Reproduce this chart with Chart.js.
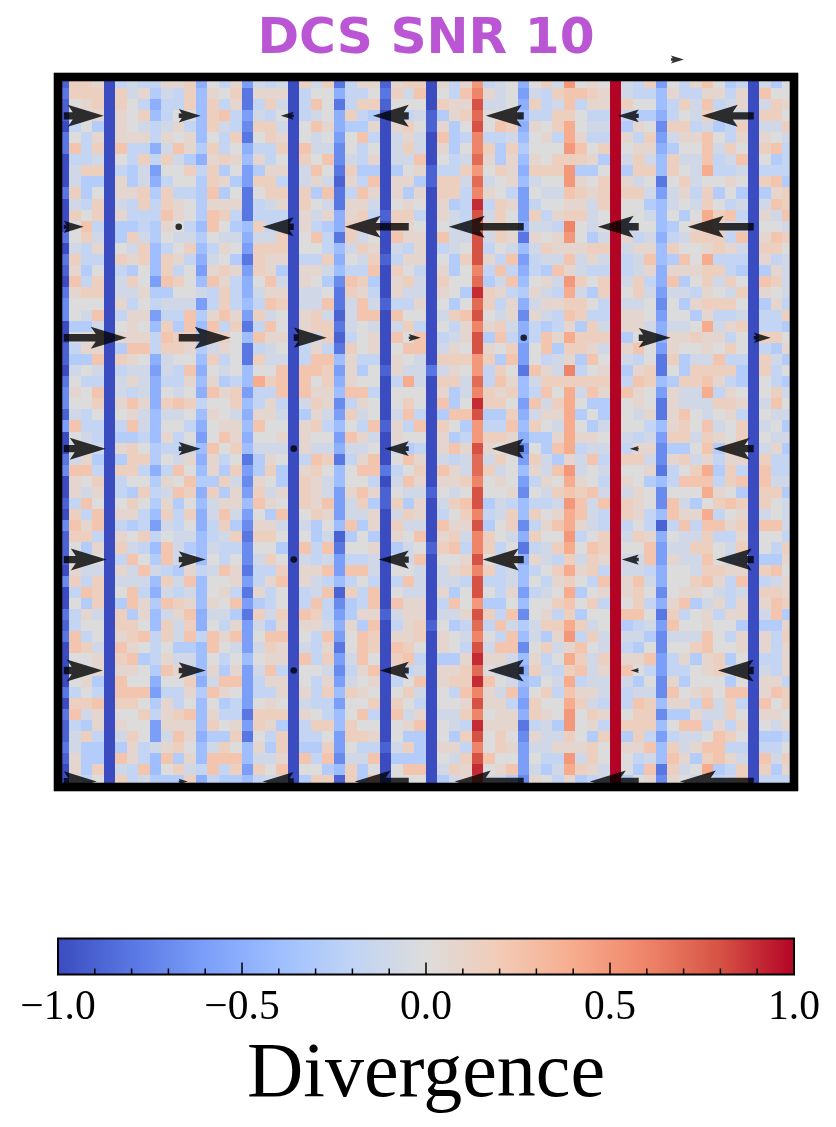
<!DOCTYPE html>
<html><head><meta charset="utf-8">
<style>html,body{margin:0;padding:0;background:#fff;width:836px;height:1127px;overflow:hidden}
canvas{position:absolute;left:0;display:block}</style>
<script src="https://cdn.jsdelivr.net/npm/chart.js@4"></script>
</head><body>
<canvas id="main" style="top:0" width="836" height="900"></canvas>
<canvas id="bar" style="top:900px" width="836" height="227"></canvas>
<script>
// Divergence cells: one letter per cell, looked up in levelValues (a..u)
const levelValues = [-1,-0.9,-0.8,-0.7,-0.6,-0.5,-0.4,-0.27,-0.18,-0.09,0,0.07,0.15,0.24,0.4,0.5,0.6,0.7,0.8,0.9,1];
const cellRows = [
"bmml aiji illm fkil ejij amjm cill blmm alil pijk fkmj pklk ujim ekil nkhi ajhk",
"cmmm amjl hjim glkm clll aikk fiik cmjn akin qljk ejim nnml ujii glii llil ankk",
"bklm amki fiim gmil cimj aink cimm bkkk amll sjjk fmij nill umkk gimj nijl ajml",
"bkkl alkm gikk gmni ejik aijk fmih akij bhlm rkkk giim mkii uihh fikj mkkj ammk",
"aikh alkj ijli gmji dmmj aknl fhhl almk blhk sknm flkm okjj uhlk dmmi jhim ajjm",
"ckil alll ilkl gkim ckml akjk ekni ajlj anhi qiij gkli olii ulim ejll nkil alkj",
"cnim anii fjnl hmik fiim anjj dkik ajmj alhk qmhm hkkk pnkm ukll fhkk njmk amni",
"aiij akim imjh flml glik amkn djil ajjn akij rlhl glkm mmlh ujmj gmjj nijn akhi",
"ajmm aihj ekkm imhk ehll ajnk cmhh ahkl biim pkml fmmm phhk uhmm gmkj oiij aiii",
"ajhh alhj fikk hmlh emmi ajlj blin allh bmmj rjkl gjkk plkm uljk ckmj kklk amnh",
"cmhk allm hmii hnhk ckmm amhn cinl alhl ammi qlki ekjj nmlm ummj ejli mhkh ahlm",
"ajim ajim imlk hlll cijl amkj cllj aklk alhi timl eikk lljm ukkh gjkj mkij ajnm",
"amkm alii inlk hnmi ciii aljl flmi bmmi alji sjmk emil mmjk ukkj gkhk omni aljn",
"akni ahhi hlki gnkh gmii alih fmll amlk akji rlmk fjji qkjk uikk ghkl nljj akkj",
"ckmj ahmj hkjj hkjj fjjm akni cmjk anll anjj sjml clkl pkhj ulij fijm mmin alnm",
"ajil akjm gikm gilk emmm akki gjml ajil aijk sikj gjml llmm ujll gmkk lmlj ammk",
"cmii amlm gmli fjkh cmll aiim fkjm bill akhm slin eijj njlj uijn ghnk oiii alij",
"blhk aihk gmik elml emlh allj giin amki alhk qini fihn ljii uijl flll mmih ahlj",
"anim ajmk enmk gnli fknj alkh dnmh almj amkk rhjn gklj pmkm ujmi fnhk mjmk anmj",
"clmm ajjl hhkk jimi fjll ajjk cmli aljj alkh tmli hlji ojhm ukmj ejji lkjm alkj",
"dkkk alik ijjj eimi ginm ajjn cjnj biil akhk rmil fjll mmki ujjk dkhl mmmk ahli",
"dkjn aill eiin hlnl emjk almj bjnn ankk ajmn skjl dlji nmii ullk ekkh liij aiim",
"ahhj aklk gmhn gnim cink almm cjkj ajmi akil qlmj fihi lhmj ullj fjjk ojlm aiih",
"akkm alll inmm hlmk gnll akjm bikl ankn aijl shni finl ommm uhkk fllm llik ammk",
"bill ahnn imml hjlk cijk aili cmkl aknn ajlk slkm eknh mmlj ulnk elkk lkmk aihl",
"bhhn amlk fjkk gmik cmjj ainn glii alkj ammm pmhn ekij lhnk ujik cmhj jnii amjh",
"ajkj aijj ejin fkjk gkkn annm elhk bljj cjlk pimk cnlj qikl uhlm ckhm mmmh amik",
"ckii ajlj fiil glhi gomn ankm flkk aioj ammj rinl gjmm mmmm uinm ghmm nlih akih",
"dlkn ajij fkjk fnlm eiin anll gnni akkk alhj qmlm gink ojnl unlk eljj oilk akmj",
"dkkm alnl fmnm ikkm gili ajml dilk akmk anhk tmmk enjm okhh uklk cljj jmml ajnk",
"bjik aklj gjjk glkj fllj ahlj emjk ajni ahnn shhm fjll ohkh ukjl clnk jkli akjj",
"enii ainj gkki fkll gnkk almi gkin blin amkh piin gmkj okhj ukki glmk njkm ajkh",
"akji ahhi glik eknl fkkl alkk enlj alkk alhi pmml fhhl ollk ujij emmj mlkm akjj",
"akkj almk hiij gnkm gjjj aljj fjjk ajhi alnl slkl dkhn oijj uill dhhk nhmk ajlh",
"cjlh ahmm hkjl flik chlk ainm ciln aknl ajij rjmk emjh ljni ummj dlmj lill amii",
"dnni ammi fink glhm ehmh almk gknn cikm anlj rmjk gljn pjkj ukkl cikm ohmi anii",
"alkm aikk hlkn hhmj dlkh amlj gkki ajnl allm qklk eilk olki ulkh ginn nimn anjj",
"aljl aihm ijnm fmhl emjl amlj elnl bkjj bkjk skkl dkjm nmnj ujlk dkkk olkh ammh",
"bink akmk hlhk gjll gnlk amln ejmh bmhl ajmn shji giij pnjn umlk dnjh kmnm amkj",
"amin alli gmim fjnj ekhn akml ejjl ajml aikm qijm gmkl onji umli gnll oikl ajkj",
"dnln aihi ejik fimh dllj ajhk gnhl amjj anll shkm diln olji uiki bini nnlm annj",
"bmmi alkm ikjj gijm cmmk akhj bhkh alkn almj qmkj fmkk pikm ujml fkjj miil akki",
"bkhl amji gnjh gjii dkkh anin ckkl ahjk bmni qmik cijm oknm ukkn ejjm mkjm akim",
"bkkk aink hnjk gkik djmk ajij eiij akjn akkl skkl flji mjml ujjn eljj nkii ahhl",
"aljj aljn jihl ijnl ciim alln ennj akkj ajlm qmij gikm olmi ujji fkkj mmll amnk",
"dmim ajjj gmjn gkkl eiln alji giki ainj ajji siij gkil mkin ulnj fkkm nlin aijl",
"ainm akni fjij gkli clik aijn bmin akjj alhk skil eijk ohkl ulmk dkll kjij amml",
"akhm ahnl hnml glkn ehik aini dhin anll aink phhk gkkm nkmi ukmi flnh jlil alnm",
"cilj amhl gjln fjjh cmjm anmi ehll bjll ajjl smin dkli mhkk unnk cmik lill ajnh",
"bikk ammk gmjm fkil ejhl allj flhn ailm bkhi rinj hjmm omjk uhij enkk lkkh ahhl",
"cnik almn imjn inln eknn akin eknm allm alkj qkin gjhl pimj ujjh djjj nkil alim",
"anmj anlk ikhh gnkj ejml ajil cknm anmk alki sjnn dkmj lnkj uihk dkkm nkkl alil",
"akkl amnh iljj gkik gkll anim ejnk amni ahhl tllj glik omjm ulln eilh lmhk aiil",
"akkl allk hnli glhl ejni akkj diln alij allm rkji fmji mnjl unki eiik lmjj ajil",
"aklh ankk fkkm fjnn eill akil ejkl aikn almm tnkj ghkj oijj ujhk dlhk kkhk alli",
"ciki annn eiil hnlk eiil alim gmlk akmj akin qljn fkmi nllj uijj dnkl mknn alnm",
"ammn ammk hlik gkhi eklk ajii ekkm amki akkl slli emkk omji uinm glli njmi ankm",
"cnjl akkm ilmn glii cmmm alki gkni anjl ajjm qkll fmlk pkml ukmm dhhl jjmk allk",
"bihl alkk elll gmkl emlh aimm gmkk akln akji tlll cijh pkli ummm gknn ilil akjl",
"bjmi ajmk ejnl fhhm ckim aiik emml akhh akhm skmk dljj mkhm uhmi eijj knmk ahhi",
"cjhh ahli jlmk gjmk glhm ahhm ekii bjmh alli qkml ejjl llmk ulln gmjl nnii aiik",
"blhh anli gnhl gnnn gjjl anin djjn ahhh akjm snkk ekii pjmk ukij gnlh mnlj anjm",
"alhm ajin gkmj inim emkn akkh gmhk aknn ajml tkln ejhj omlj ukhn cmjk ohim amhl",
"akik amij hhhm fihh gijj ahmm bmhn akkk ahjl sjjh dlki lhij uhkl dlkj kijm aiii"
];
// Quiver: tails on a grid in cell units, horizontal component per row
const arrowCols = [0.5, 10.5, 20.5, 30.5, 40.5, 50.5, 60.5];
const arrowRows = [3.5, 13.5, 23.5, 33.5, 43.5, 53.5, 63.5];
const arrowU0 = [3.48, 1.91, -1.13, -3.13, -3.30, -1.83, -4.52];
const arrowU1 = [1.74, 0, -2.70, -5.57, -6.52, -3.57, -5.74];
const arrowU2 = [5.48, 4.52, 2.87, 1.04, 0, 2.78, 1.48];
const arrowU3 = [3.65, 1.91, 0, -2.09, -2.78, -0.78, -3.48];
const arrowU4 = [3.74, 2.35, 0, -2.61, -3.57, -1.48, -3.30];
const arrowU5 = [3.39, 2.35, 0, -2.52, -3.13, -0.70, -3.13];
const arrowU6 = [2.87, 0.78, -2.70, -4.70, -6.00, -4.26, -6.43];
const arrowU = [arrowU0, arrowU1, arrowU2, arrowU3, arrowU4, arrowU5, arrowU6];
const strayArrow = {x: 53.3, y: -1.58, u: 1.13};
const titleText = "DCS SNR 10";
const barLabel = "Divergence";
const coolwarm = ["#3b4cc0","#5977e3","#7b9ff9","#9ebeff","#c0d4f5","#dddcdc","#f2cbb7","#f7ac8e","#ee8468","#d65244","#b40426"];

const stops = coolwarm.map(h => [1,3,5].map(i => parseInt(h.substr(i,2),16)));
function colorOf(v){
  const t = Math.min(1, Math.max(0, (v+1)/2)) * 10;
  const i = Math.min(9, Math.floor(t)), f = t - i;
  const c = [0,1,2].map(k => Math.round(stops[i][k] + (stops[i+1][k]-stops[i][k])*f));
  return `rgb(${c[0]},${c[1]},${c[2]})`;
}
const swatches = {};
function swatch(v){
  if(!swatches[v]){
    const c = document.createElement('canvas'); c.width = 12; c.height = 12;
    const g = c.getContext('2d'); g.fillStyle = colorOf(v); g.fillRect(0,0,12,12);
    swatches[v] = c;
  }
  return swatches[v];
}
const cells = [];
cellRows.forEach((s,r) => {
  const t = s.replace(/ /g,'');
  if(t.length !== 64) throw new Error('row '+r+' length '+t.length);
  for(let c=0;c<64;c++) cells.push({x:c+0.5, y:r+0.5, v:levelValues[t.charCodeAt(c)-97]});
});
const arrows = [];
arrowRows.forEach((y,r) => arrowCols.forEach((x,c) => arrows.push({x, y, u: arrowU[r][c]})));
arrows.push(strayArrow);

const quiverPlugin = {
  id:'quiver',
  afterDatasetsDraw(chart){
    const {ctx, scales:{x:xs, y:ys}, chartArea:a} = chart;
    ctx.save();
    ctx.beginPath(); ctx.rect(0,0,chart.width,a.bottom); ctx.clip();
    ctx.fillStyle = 'rgba(0,0,0,0.8)';
    arrows.forEach(p => {
      const x0 = xs.getPixelForValue(p.x), y0 = ys.getPixelForValue(p.y);
      const L = xs.getPixelForValue(p.x + p.u) - x0, A = Math.abs(L), d = Math.sign(L);
      if(A < 0.5){ ctx.beginPath(); ctx.arc(x0,y0,3.3,0,Math.PI*2); ctx.fill(); return; }
      const s = Math.min(1, A/36), hl = 36*s, nl = 31*s, hw = 11*s, sw = 3.7*s;
      ctx.beginPath();
      ctx.moveTo(x0, y0-sw);
      ctx.lineTo(x0+d*(A-nl), y0-sw);
      ctx.lineTo(x0+d*(A-hl), y0-hw);
      ctx.lineTo(x0+L, y0);
      ctx.lineTo(x0+d*(A-hl), y0+hw);
      ctx.lineTo(x0+d*(A-nl), y0+sw);
      ctx.lineTo(x0, y0+sw);
      ctx.closePath(); ctx.fill();
    });
    ctx.restore();
    ctx.save();
    ctx.strokeStyle = '#000'; ctx.lineWidth = 8.6; ctx.lineJoin = 'miter';
    ctx.strokeRect(a.left, a.top, a.right-a.left, a.bottom-a.top);
    ctx.restore();
  }
};

new Chart(document.getElementById('main'), {
  type:'scatter',
  data:{datasets:[
    {label:'Divergence', data:cells, pointRadius:6, pointHoverRadius:6, borderWidth:0,
     pointStyle: ctx => ctx.raw ? swatch(ctx.raw.v) : 'rect'},
    {label:'Flow', data:arrows, pointRadius:0, pointHoverRadius:0, clip:false}
  ]},
  options:{
    responsive:false, animation:false, devicePixelRatio:1,
    events:[],
    layout:{padding:{left:58,right:42,top:0,bottom:113}},
    scales:{
      x:{type:'linear',min:0,max:64,display:false},
      y:{type:'linear',min:0,max:64,reverse:true,display:false}
    },
    plugins:{
      legend:{display:false}, tooltip:{enabled:false},
      title:{display:true,text:titleText,color:'#ba55d3',fullSize:false,
        font:{family:'"DejaVu Sans"',size:50.2,weight:'bold',lineHeight:1.2},
        padding:{top:10,bottom:6.76}}
    }
  },
  plugins:[quiverPlugin]
});

const barPlugin = {
  id:'colorbar',
  beforeDatasetsDraw(chart){
    const {ctx, scales:{x:xs}, chartArea:a} = chart;
    ctx.save();
    const grad = ctx.createLinearGradient(a.left,0,a.right,0);
    coolwarm.forEach((c,i) => grad.addColorStop(i/10,c));
    ctx.fillStyle = grad;
    ctx.fillRect(a.left,a.top,a.right-a.left,a.bottom-a.top);
    ctx.fillStyle='#000';
    xs.ticks.forEach(t => {
      const x = xs.getPixelForValue(t.value);
      const major = Math.abs(t.value*2-Math.round(t.value*2))<1e-6;
      if(Math.abs(Math.abs(t.value)-1)<1e-6) return;
      const len = major?12:6;
      ctx.fillRect(x-0.75, a.bottom-len, 1.5, len);
    });
    ctx.strokeStyle='#000'; ctx.lineWidth=2;
    ctx.strokeRect(a.left,a.top,a.right-a.left,a.bottom-a.top);
    ctx.restore();
  }
};
new Chart(document.getElementById('bar'), {
  type:'scatter',
  data:{datasets:[{data:[],pointRadius:0}]},
  options:{
    responsive:false, animation:false, devicePixelRatio:1, events:[],
    layout:{padding:{left:58,right:42,top:38.5,bottom:0}},
    scales:{
      y:{display:false,min:0,max:1},
      x:{type:'linear',min:-1,max:1,
        afterFit(s){s.height=152.5;},
        grid:{display:false,drawTicks:false}, border:{display:false},
        ticks:{stepSize:0.1,autoSkip:false,maxRotation:0,minRotation:0,padding:9,color:'#000',
          font:{family:'"Liberation Serif"',size:41.5,lineHeight:1.2},
          callback(v){
            if(Math.abs(v*2-Math.round(v*2))>1e-6) return '';
            return (v<-1e-6?'\u2212':'')+Math.abs(v).toFixed(1);
          }},
        title:{display:true,text:barLabel,color:'#000',
          font:{family:'"Liberation Serif"',size:78,lineHeight:1.2},padding:{top:0,bottom:5}}
      }
    },
    plugins:{legend:{display:false},tooltip:{enabled:false}}
  },
  plugins:[barPlugin]
});
</script>
</body></html>
